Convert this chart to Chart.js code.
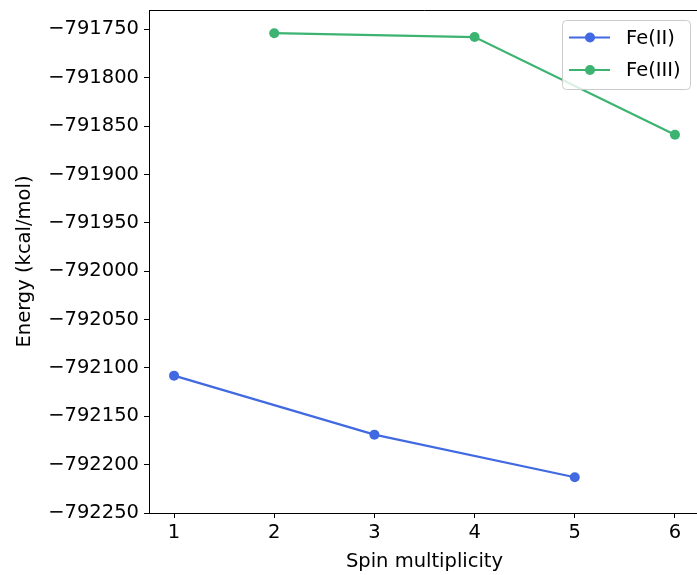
<!DOCTYPE html>
<html>
<head>
<meta charset="utf-8">
<script src="https://cdn.jsdelivr.net/npm/chart.js@4/dist/chart.umd.min.js"></script>
<style>
  html, body { margin: 0; padding: 0; background: #fff; overflow: hidden; }
  canvas { display: block; }
</style>
</head>
<body>
<canvas id="myChart" width="705" height="575"></canvas>
<script>
const ctx = document.getElementById('myChart')

// values
const feIIMult = [1, 3, 5]
const feIIEnergy = [-792108, -792169, -792213]
const feIIIMult = [2, 4, 6]
const feIIIEnergy = [-791754, -791758, -791859]
const xTicks = [1, 2, 3, 4, 5, 6]
const yTicks = [-791750, -791800, -791850, -791900, -791950, -792000, -792050, -792100, -792150, -792200, -792250]

const clrBlue = '#4169e1'
const clrGreen = '#3cb371'
const fontFamily = '"DejaVu Sans", sans-serif'
const fontSize = 19.5

const toPoints = (xs, ys) => xs.map((x, i) => ({ x: x, y: ys[i] }))

const minusFmt = (v) => (v < 0 ? '\u2212' + Math.abs(v) : String(v))

// matplotlib style frame: top and right spines
const framePlugin = {
  id: 'frame',
  afterDraw: (chart) => {
    const { ctx, chartArea } = chart
    ctx.save()
    ctx.strokeStyle = '#000'
    ctx.lineWidth = 1
    ctx.beginPath()
    ctx.moveTo(chartArea.left, chartArea.top + 0.5)
    ctx.lineTo(chartArea.right - 0.5, chartArea.top + 0.5)
    ctx.lineTo(chartArea.right - 0.5, chartArea.bottom)
    ctx.stroke()
    ctx.restore()
  },
}

// legend box with line + marker samples
const legendPlugin = {
  id: 'mplLegend',
  afterDraw: (chart) => {
    const { ctx } = chart
    const bx = 562, by = 20, bw = 128, bh = 69
    ctx.save()
    ctx.beginPath()
    ctx.roundRect(bx + 0.5, by + 0.5, bw, bh, 4)
    ctx.fillStyle = 'rgba(255,255,255,0.8)'
    ctx.fill()
    ctx.strokeStyle = '#cccccc'
    ctx.lineWidth = 1
    ctx.stroke()

    chart.data.datasets.forEach((ds, i) => {
      const y = 37.5 + i * 32.5
      ctx.strokeStyle = ds.borderColor
      ctx.lineWidth = 2.2
      ctx.beginPath()
      ctx.moveTo(569, y)
      ctx.lineTo(610, y)
      ctx.stroke()
      ctx.fillStyle = ds.borderColor
      ctx.beginPath()
      ctx.arc(590, y, 5, 0, Math.PI * 2)
      ctx.fill()
      ctx.fillStyle = '#000'
      ctx.font = fontSize + 'px ' + fontFamily
      ctx.textAlign = 'left'
      ctx.textBaseline = 'middle'
      ctx.fillText(ds.label, 626, y + 1)
    })
    ctx.restore()
  },
}

const config = {
  type: 'line',
  data: {
    datasets: [
      {
        label: 'Fe(II)',
        data: toPoints(feIIMult, feIIEnergy),
        borderColor: clrBlue,
        backgroundColor: clrBlue,
        borderWidth: 2.2,
        pointRadius: 5,
        pointHoverRadius: 5,
        pointBorderWidth: 0,
      },
      {
        label: 'Fe(III)',
        data: toPoints(feIIIMult, feIIIEnergy),
        borderColor: clrGreen,
        backgroundColor: clrGreen,
        borderWidth: 2.2,
        pointRadius: 5,
        pointHoverRadius: 5,
        pointBorderWidth: 0,
      },
    ],
  },
  options: {
    responsive: false,
    animation: false,
    devicePixelRatio: 1,
    layout: { padding: { left: 0, top: 10, right: 0, bottom: 0 } },
    scales: {
      x: {
        type: 'linear',
        min: 0.75,
        max: 6.25,
        afterBuildTicks: (scale) => {
          scale.ticks = xTicks.map((v) => ({ value: v }))
        },
        afterFit: (scale) => {
          scale.height = 62
          scale.paddingLeft = 0
          scale.paddingRight = 0
        },
        grid: {
          drawOnChartArea: false,
          drawTicks: true,
          tickLength: 5,
          tickColor: '#000',
        },
        border: { display: true, color: '#000', width: 1 },
        ticks: {
          color: '#000',
          font: { family: fontFamily, size: fontSize },
          padding: 3,
          maxRotation: 0,
          callback: (v) => minusFmt(v),
        },
        title: {
          display: true,
          text: 'Spin multiplicity',
          color: '#000',
          font: { family: fontFamily, size: fontSize },
          padding: { top: 0, bottom: 1 },
        },
      },
      y: {
        type: 'linear',
        min: -792250,
        max: -791730,
        afterBuildTicks: (scale) => {
          scale.ticks = yTicks.map((v) => ({ value: v }))
        },
        afterFit: (scale) => {
          scale.width = 149
          scale.paddingTop = 0
          scale.paddingBottom = 0
        },
        grid: {
          drawOnChartArea: false,
          drawTicks: true,
          tickLength: 5,
          tickColor: '#000',
        },
        border: { display: true, color: '#000', width: 1 },
        ticks: {
          color: '#000',
          font: { family: fontFamily, size: fontSize },
          padding: 5,
          callback: (v) => minusFmt(v),
        },
        title: {
          display: true,
          text: 'Energy (kcal/mol)',
          color: '#000',
          font: { family: fontFamily, size: fontSize },
          padding: { top: 13, bottom: 0 },
        },
      },
    },
    plugins: {
      legend: { display: false },
      tooltip: { enabled: false },
    },
  },
  plugins: [framePlugin, legendPlugin],
}

const myChart = new Chart(ctx, config)
</script>
</body>
</html>
